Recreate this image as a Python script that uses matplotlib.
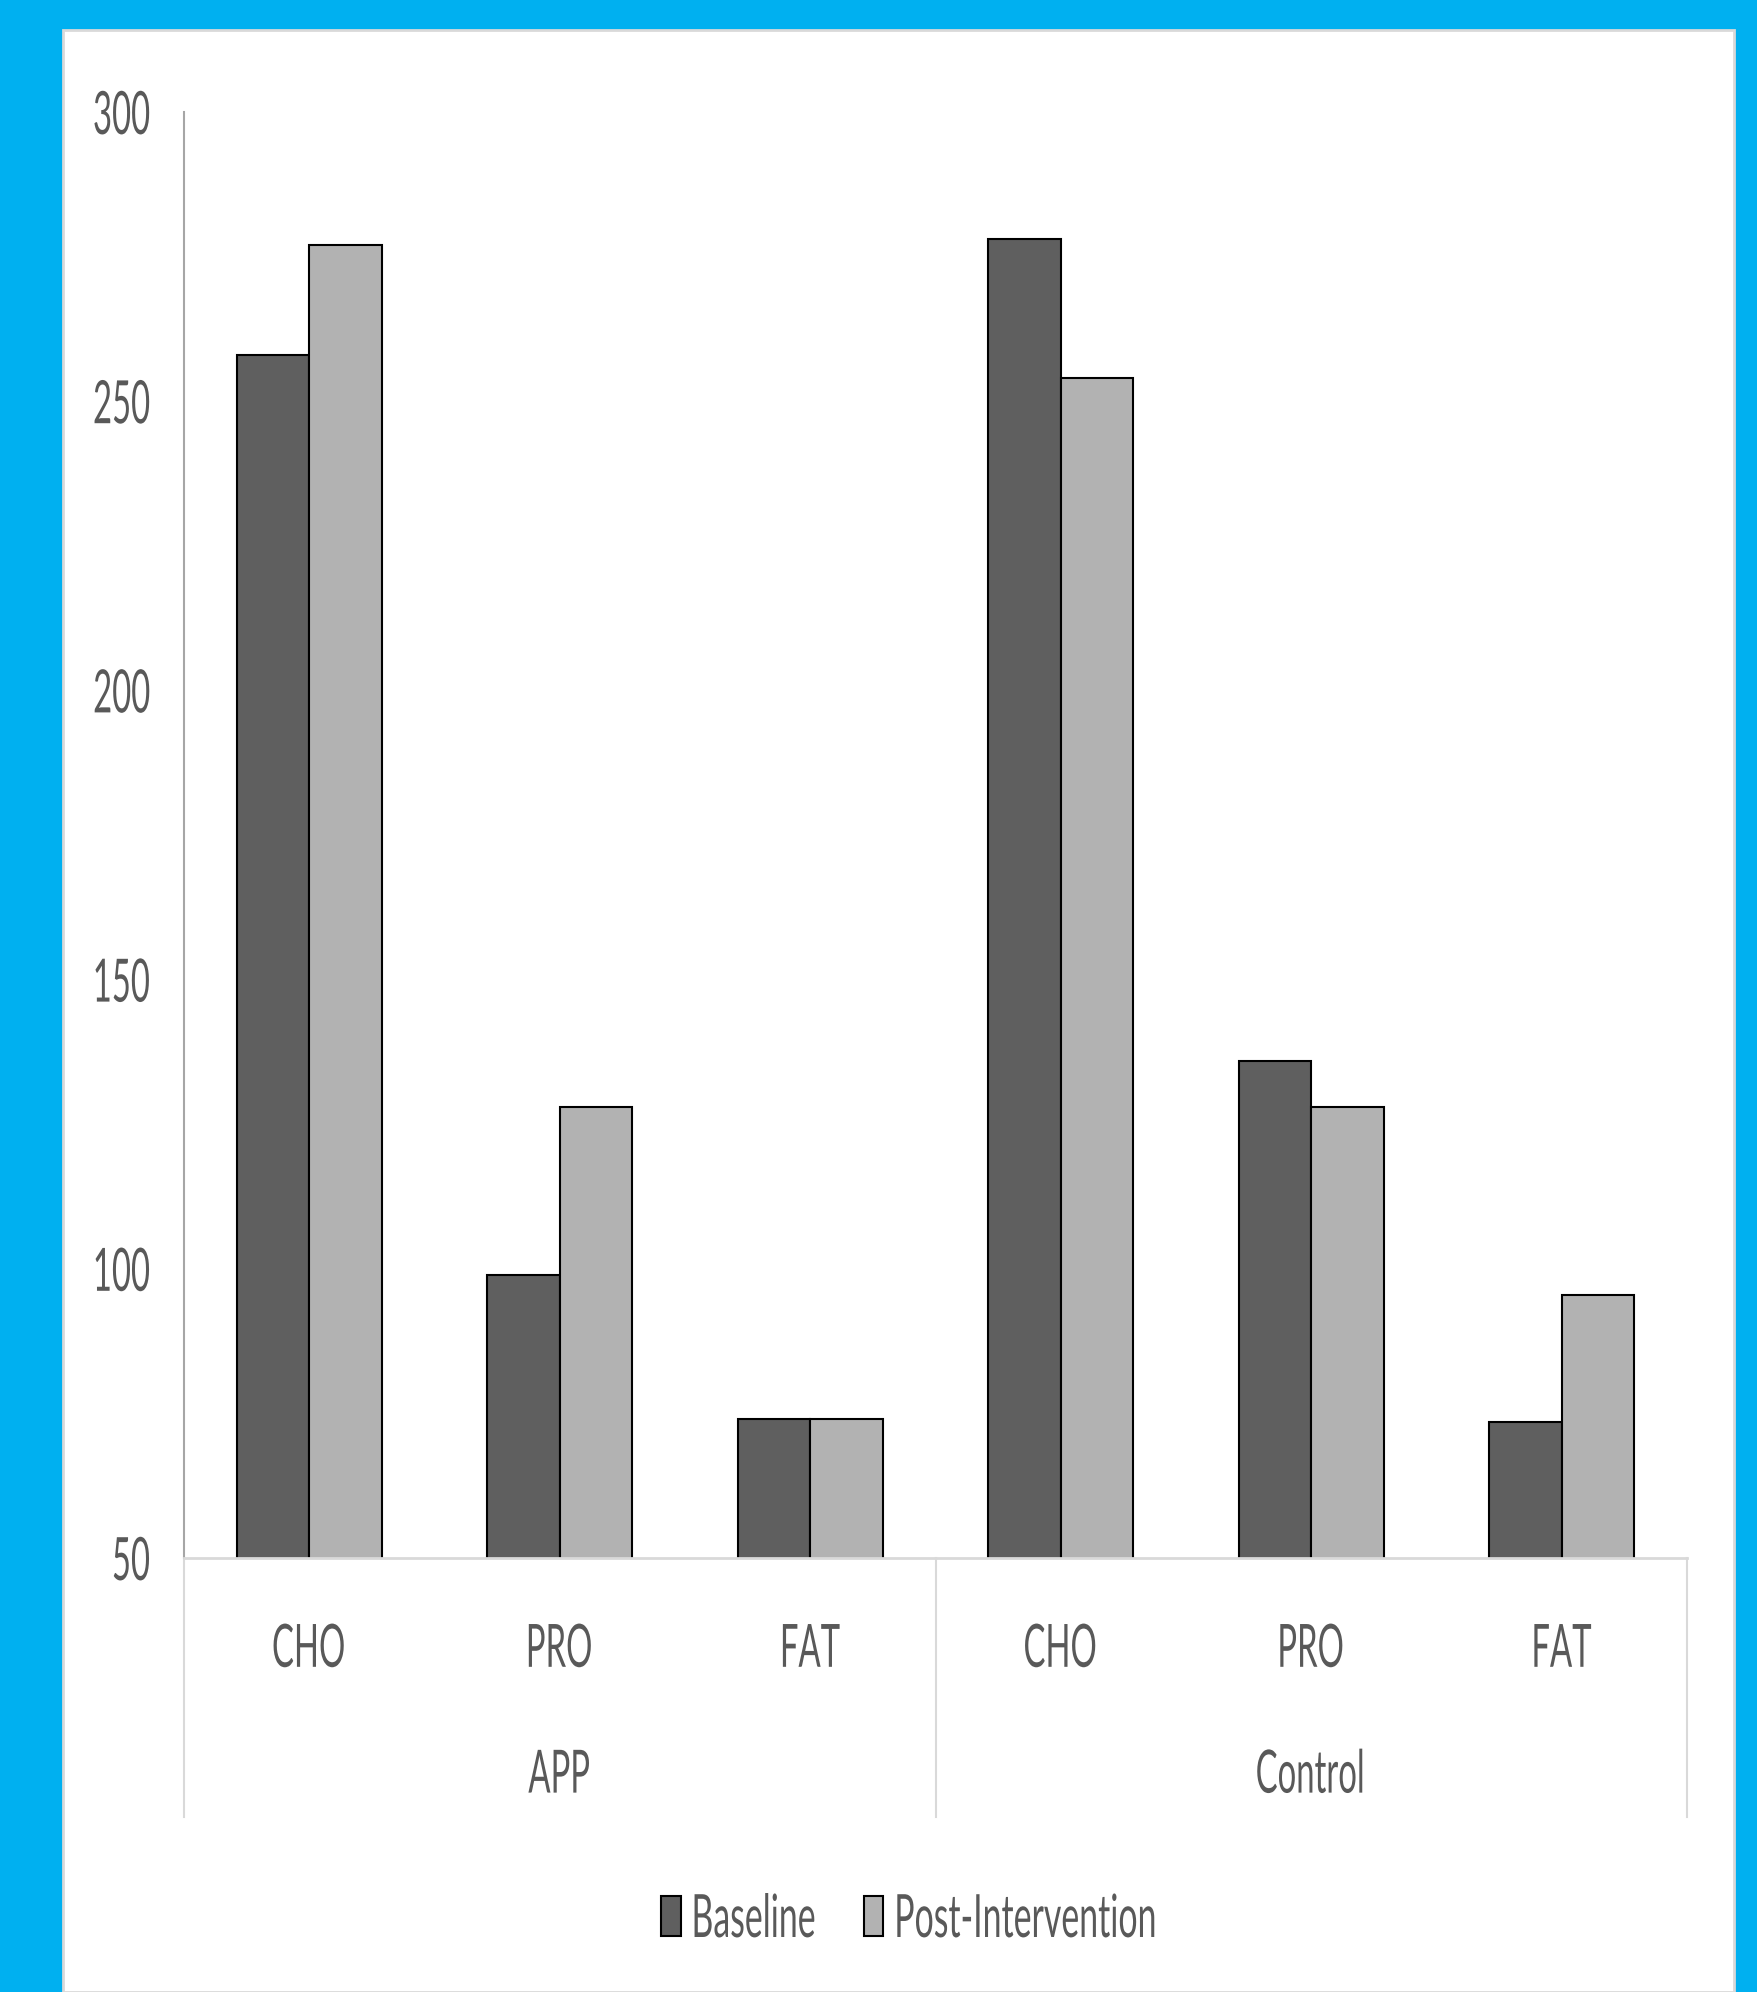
import matplotlib
matplotlib.use("Agg")
import matplotlib.pyplot as plt
from matplotlib.patches import Rectangle, Patch
from matplotlib.patheffects import AbstractPathEffect
from matplotlib.transforms import Affine2D, Bbox
from matplotlib.font_manager import FontProperties
import numpy as np

groups = ["APP", "Control"]
nutrients = ["CHO", "PRO", "FAT"]
baseline = [258, 99, 74, 278, 136, 73.5]
post_intervention = [277, 128, 74, 254, 128, 95.5]
series_names = ["Baseline", "Post-Intervention"]
yticks = [50, 100, 150, 200, 250, 300]

W, H = 1757, 1992
FONT = ["Lato", "DejaVu Sans"]
FS = 43
SX = 0.55
SX_LEG = 0.567
TXT = "#595959"


class Squeeze(AbstractPathEffect):
    """Draw text horizontally condensed (like the narrow font of the original)."""

    def __init__(self, sx=SX, anchor="center"):
        super().__init__()
        self.sx = sx
        self.anchor = anchor

    def draw_path(self, renderer, gc, tpath, affine, rgbFace=None):
        v = tpath.vertices
        if len(v) == 0:
            return
        if self.anchor == "left":
            cx = 0.0
        elif self.anchor == "right":
            cx = v[:, 0].max()
        else:
            cx = 0.5 * (v[:, 0].min() + v[:, 0].max())
        t = Affine2D().translate(-cx, 0).scale(self.sx, 1).translate(cx, 0) + affine
        renderer.draw_path(gc, tpath, t, rgbFace)


def condense(text, sx=SX, anchor="center"):
    """Condense a Text horizontally and make its reported extent match the ink."""
    text.set_path_effects([Squeeze(sx, anchor)])
    orig = text.get_window_extent

    def gwe(renderer=None, dpi=None):
        bb = orig(renderer, dpi)
        w = bb.width * sx
        if anchor == "left":
            x0 = bb.x0
        elif anchor == "right":
            x0 = bb.x1 - w
        else:
            x0 = 0.5 * (bb.x0 + bb.x1) - w / 2
        return Bbox([[x0, bb.y0], [x0 + w, bb.y1]])

    text.get_window_extent = gwe
    return text


fig = plt.figure(figsize=(W / 100, H / 100), dpi=100)
fig.patch.set_facecolor("#00B0F0")
fig.patches.append(Rectangle((63 / W, 0), (1734 - 63) / W, 1 - 30 / H,
                             transform=fig.transFigure, facecolor="white",
                             edgecolor="#D9D9D9", linewidth=2, zorder=-5))

ax = fig.add_axes([184 / W, 1 - 1558 / H, (1687 - 184) / W, (1558 - 112) / H])
ax.set_facecolor("none")
x = np.arange(len(baseline))
bw = 0.29
ax.bar(x - bw / 2, baseline, bw, color="#5F5F5F", edgecolor="black",
       linewidth=1.5, label=series_names[0], zorder=2)
ax.bar(x + bw / 2, post_intervention, bw, color="#B2B2B2", edgecolor="black",
       linewidth=1.5, label=series_names[1], zorder=2)
ax.set_ylim(50, 300)
ax.set_xlim(-0.5, len(baseline) - 0.5)
ax.set_yticks(yticks)
ax.set_yticklabels([str(v) for v in yticks], family=FONT, fontsize=FS, color=TXT)
for t in ax.get_yticklabels():
    condense(t, SX, "right")
ax.tick_params(axis="y", length=0, pad=24)
ax.set_xticks([])
for s in ["top", "right"]:
    ax.spines[s].set_visible(False)
ax.spines["left"].set_color("#A6A6A6")
ax.spines["left"].set_linewidth(1.5)
ax.spines["bottom"].set_color("#D9D9D9")
ax.spines["bottom"].set_linewidth(2)
ax.spines["bottom"].set_zorder(3)

tr = ax.get_xaxis_transform()
for xv in [-0.5, 2.5, 5.5]:
    ax.plot([xv, xv], [0, -0.179], transform=tr, color="#D9D9D9", lw=1.5, clip_on=False)
labels = nutrients * len(groups)
for xi, lab in zip(x, labels):
    condense(ax.text(xi, -0.0635, lab, transform=tr, ha="center", va="center",
                     family=FONT, fontsize=FS, color=TXT))
for gi, g in enumerate(groups):
    condense(ax.text(gi * 3 + 1, -0.1505, g, transform=tr, ha="center", va="center",
                     family=FONT, fontsize=FS, color=TXT))

# legend: measure the un-squeezed width to set a compensating column spacing
renderer = fig.canvas.get_renderer()
fp = FontProperties(family=FONT, size=FS)
tmp = fig.text(0, 0, series_names[0], fontproperties=fp)
wpx = tmp.get_window_extent(renderer).width
tmp.remove()
fs_px = FS * 100 / 72
colsep = (48 - wpx * (1 - SX_LEG)) / fs_px

leg = fig.legend(handles=[Patch(facecolor="#5F5F5F", edgecolor="black", lw=1.5),
                          Patch(facecolor="#B2B2B2", edgecolor="black", lw=1.5)],
                 labels=series_names, loc="center left",
                 bbox_to_anchor=(661 / W, 1 - 1920 / H),
                 ncol=2, frameon=False, prop=fp, borderpad=0, borderaxespad=0,
                 handlelength=0.33, handleheight=0.66, handletextpad=0.18,
                 columnspacing=colsep)
for t in leg.get_texts():
    t.set_color(TXT)
    condense(t, SX_LEG, "left")

fig.savefig("out.png", dpi=100, facecolor=fig.get_facecolor())
